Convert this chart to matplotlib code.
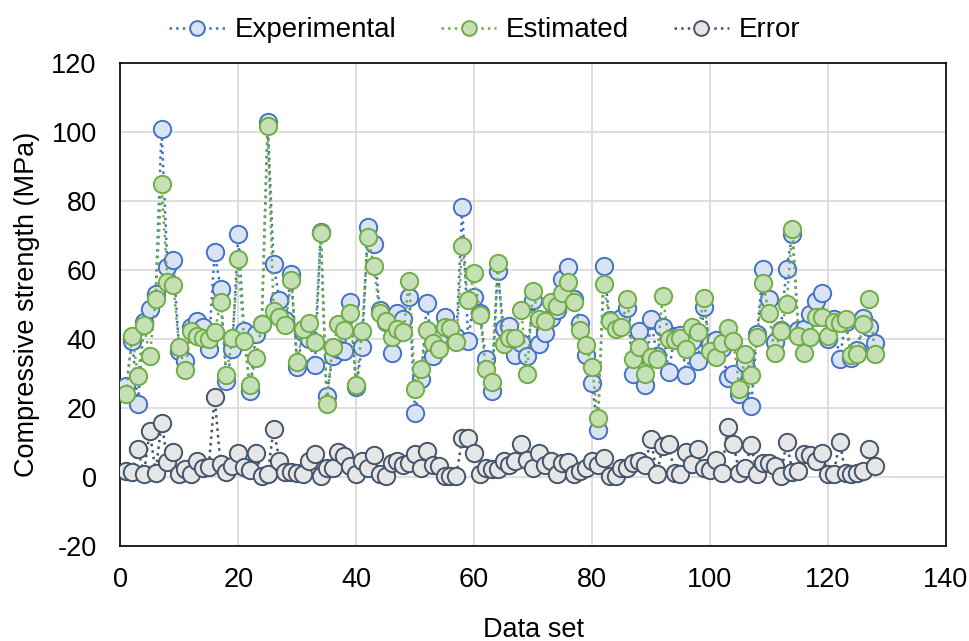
import numpy as np
import matplotlib.pyplot as plt

plt.rcParams['font.family'] = ['Liberation Sans', 'DejaVu Sans']

data_set = np.arange(1, 129)

experimental = [
    26.3, 39.5, 21.1, 44.9, 48.8, 53.0, 100.9, 60.8, 62.8, 36.4,
    33.7, 43.4, 45.3, 43.6, 37.1, 65.2, 54.6, 27.9, 37.0, 70.3,
    42.4, 25.0, 41.5, 44.4, 103.0, 61.6, 51.2, 45.5, 58.8, 32.0,
    42.0, 40.0, 32.5, 71.0, 23.5, 35.0, 37.0, 36.5, 50.7, 26.0,
    37.6, 72.5, 67.4, 48.5, 45.0, 36.0, 47.5, 45.9, 52.1, 18.7,
    28.4, 50.5, 35.2, 40.5, 46.3, 43.0, 40.5, 78.3, 39.5, 52.1,
    47.5, 34.2, 25.0, 59.7, 43.2, 43.8, 35.5, 38.9, 35.2, 51.2,
    38.6, 41.6, 46.0, 48.5, 57.5, 60.8, 51.6, 44.5, 35.5, 27.3,
    13.5, 61.2, 45.4, 43.2, 46.1, 48.9, 29.9, 42.3, 26.6, 45.8,
    35.0, 43.5, 30.3, 40.8, 41.2, 29.6, 39.5, 33.7, 49.2, 38.5,
    39.8, 37.5, 28.8, 29.8, 24.2, 33.0, 20.5, 41.5, 60.4, 51.7,
    39.0, 42.6, 60.4, 70.5, 42.6, 42.8, 47.1, 51.1, 53.4, 40.0,
    45.8, 34.2, 44.8, 34.6, 36.8, 46.1, 43.4, 38.8,
]

estimated = [
    24.2, 41.0, 29.4, 44.0, 35.2, 51.5, 85.0, 56.5, 55.5, 37.6,
    31.1, 42.4, 41.0, 40.3, 40.0, 41.9, 50.7, 29.6, 40.2, 63.1,
    39.5, 26.7, 34.6, 44.2, 101.7, 48.0, 46.3, 44.1, 57.0, 33.3,
    42.8, 44.6, 39.0, 70.7, 21.1, 37.6, 44.2, 42.5, 47.6, 26.8,
    42.2, 69.6, 61.1, 47.6, 45.2, 40.5, 43.0, 41.9, 56.7, 25.5,
    31.3, 42.7, 38.9, 37.2, 43.6, 43.1, 39.0, 66.9, 51.2, 59.1,
    47.0, 31.3, 27.4, 62.0, 38.6, 40.2, 40.3, 48.4, 30.0, 53.9,
    45.8, 45.3, 50.7, 49.6, 53.3, 56.5, 50.7, 42.7, 38.2, 32.0,
    17.1, 55.8, 45.2, 42.9, 43.4, 51.6, 34.1, 37.7, 30.0, 34.7,
    34.1, 52.5, 39.9, 39.6, 40.3, 37.0, 43.4, 41.9, 51.9, 36.4,
    34.8, 38.7, 43.2, 39.3, 25.4, 35.7, 29.7, 40.6, 56.2, 47.5,
    35.8, 42.3, 50.1, 71.9, 40.9, 36.0, 40.6, 46.5, 46.3, 40.9,
    44.9, 44.5, 45.9, 35.5, 35.6, 44.4, 51.6, 35.6,
]

error = [
    1.7, 1.4, 8.2, 0.9, 13.4, 1.3, 15.8, 4.5, 7.4, 0.9,
    2.2, 1.0, 4.6, 2.7, 2.9, 23.1, 3.9, 1.5, 3.2, 7.1,
    2.9, 2.0, 7.1, 0.3, 0.8, 13.9, 4.8, 1.4, 1.4, 1.2,
    0.8, 4.6, 6.6, 0.2, 2.7, 2.7, 7.4, 6.1, 3.2, 0.9,
    4.6, 2.7, 6.4, 0.9, 0.2, 4.2, 4.6, 3.6, 4.2, 6.6,
    2.7, 7.6, 3.6, 3.2, 0.3, 0.3, 0.3, 11.4, 11.2, 7.1,
    0.9, 2.7, 2.2, 2.2, 4.6, 3.6, 4.8, 9.5, 5.0, 2.7,
    7.1, 3.6, 4.6, 0.9, 4.2, 4.3, 0.9, 1.7, 2.7, 4.6,
    3.6, 5.4, 0.3, 0.3, 2.7, 2.7, 4.2, 4.6, 3.4, 11.1,
    0.9, 9.0, 9.6, 1.2, 0.9, 7.4, 3.9, 8.2, 2.7, 2.1,
    5.0, 1.2, 14.4, 9.5, 1.2, 2.7, 9.2, 0.9, 4.2, 4.2,
    3.2, 0.3, 10.3, 1.4, 1.7, 6.8, 6.5, 4.6, 7.1, 0.9,
    0.9, 10.3, 1.1, 0.9, 1.2, 1.7, 8.2, 3.2,
]

fig = plt.figure(figsize=(9.7, 6.41), dpi=100)
ax = fig.add_axes([0.124, 0.148, 0.851, 0.754])

ms = 12.5
ax.plot(data_set, experimental, linestyle=':', color='#4472c4', linewidth=1.8,
        marker='o', markersize=ms, markerfacecolor='#dae3f3',
        markeredgecolor='#4472c4', markeredgewidth=1.4, label='Experimental', zorder=3)
ax.plot(data_set, estimated, linestyle=':', color='#70ad47', linewidth=1.8,
        marker='o', markersize=ms, markerfacecolor='#c5e0b4',
        markeredgecolor='#70ad47', markeredgewidth=1.4, label='Estimated', zorder=4)
ax.plot(data_set, error, linestyle=':', color='#44546a', linewidth=1.8,
        marker='o', markersize=ms, markerfacecolor='#e7e6e6',
        markeredgecolor='#44546a', markeredgewidth=1.4, label='Error', zorder=3)

ax.set_xlim(0, 140)
ax.set_ylim(-20, 120)
ax.set_xticks(range(0, 141, 20))
ax.set_yticks(range(-20, 121, 20))
ax.set_yticklabels([str(v) for v in range(-20, 121, 20)])
ax.tick_params(axis='x', labelsize=19.5, length=0, pad=15)
ax.tick_params(axis='y', labelsize=19.5, length=0, pad=17)
ax.grid(True, color='#d9d9d9', linewidth=1.2, zorder=0)
ax.set_axisbelow(True)
for sp in ax.spines.values():
    sp.set_color('black')
    sp.set_linewidth(1.2)

ax.set_xlabel('Data set', fontsize=19.5, labelpad=17)
ax.set_ylabel('Compressive strength (MPa)', fontsize=19.5, labelpad=8)

fig.legend(loc='upper center', bbox_to_anchor=(0.5, 1.012), ncol=3, frameon=False,
           fontsize=20, handlelength=2.0, columnspacing=1.6, handletextpad=0.35,
           markerscale=0.85)

plt.savefig('out.png', dpi=100)
